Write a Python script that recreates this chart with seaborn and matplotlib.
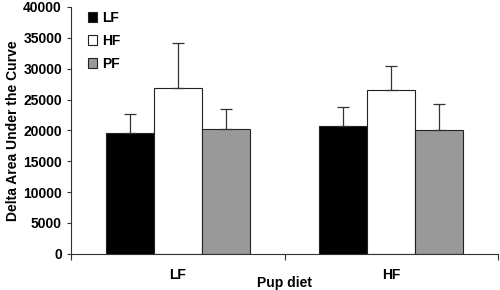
import numpy as np
import pandas as pd
import seaborn as sns
import matplotlib.pyplot as plt
from matplotlib.patches import Patch

# data
pup_diet = ['LF', 'HF']
groups = ['LF', 'HF', 'PF']
means = {'LF': [19500, 20750], 'HF': [26900, 26500], 'PF': [20300, 20100]}
sems = {'LF': [3100, 3050], 'HF': [7200, 3900], 'PF': [3100, 4100]}
colors = ['#000000', '#ffffff', '#999999']

rows = []
for g in groups:
    for i, d in enumerate(pup_diet):
        rows.append({'diet': d, 'group': g, 'auc': means[g][i], 'err': sems[g][i]})
df = pd.DataFrame(rows)

sns.set_style('ticks')
plt.rcParams['font.family'] = ['Liberation Sans', 'DejaVu Sans']
plt.rcParams['font.weight'] = 'bold'
plt.rcParams['text.color'] = 'black'
plt.rcParams['axes.labelcolor'] = 'black'
plt.rcParams['xtick.labelcolor'] = 'black'
plt.rcParams['ytick.labelcolor'] = 'black'

fig = plt.figure(figsize=(5, 2.9), dpi=100)
ax = fig.add_axes([0.142, 0.125, 0.854, 0.851])

sns.barplot(data=df, x='diet', y='auc', hue='group', order=pup_diet,
            hue_order=groups, palette=colors, width=0.676, errorbar=None,
            edgecolor='#222222', linewidth=0.8, legend=False, ax=ax)

# upward-only error bars on top of each bar
for container, g in zip(ax.containers, groups):
    for patch, i in zip(container.patches, range(len(pup_diet))):
        x = patch.get_x() + patch.get_width() / 2
        ax.errorbar(x, patch.get_height(), yerr=[[0], [sems[g][i]]],
                    fmt='none', ecolor='#333333', elinewidth=0.9,
                    capsize=4, capthick=0.9)

ax.set_xlim(-0.5, 1.5)
ax.set_ylim(0, 40000)
ax.set_yticks(np.arange(0, 40001, 5000))
ax.tick_params(axis='y', labelsize=10, length=3, width=0.8, color='#333333',
               labelcolor='black')
ax.set_xticks([0, 1])
ax.set_xticks([-0.5, 0.5, 1.5], minor=True)
ax.tick_params(axis='x', which='major', length=0, labelsize=10, pad=10,
               labelcolor='black')
ax.tick_params(axis='x', which='minor', length=4, width=0.8, color='#333333')
for lab in ax.get_xticklabels() + ax.get_yticklabels():
    lab.set_fontweight('bold')

ax.set_ylabel('Delta Area Under the Curve', fontsize=10, fontweight='bold',
              labelpad=2, color='black')
ax.set_xlabel('Pup diet', fontsize=10, fontweight='bold', color='black')
ax.xaxis.set_label_coords(0.5, -0.092)

for s in ['top', 'right']:
    ax.spines[s].set_visible(False)
for s in ['left', 'bottom']:
    ax.spines[s].set_color('#333333')
    ax.spines[s].set_linewidth(0.8)

handles = [Patch(facecolor=c, edgecolor='#222222', linewidth=0.8) for c in colors]
leg = ax.legend(handles, groups, loc='upper left', bbox_to_anchor=(0.01, 1.035),
                frameon=False, handlelength=0.65, handleheight=0.65,
                handletextpad=0.4, labelspacing=0.65, fontsize=10)
for t in leg.get_texts():
    t.set_fontweight('bold')
    t.set_color('black')

fig.savefig('out.png', dpi=100)
